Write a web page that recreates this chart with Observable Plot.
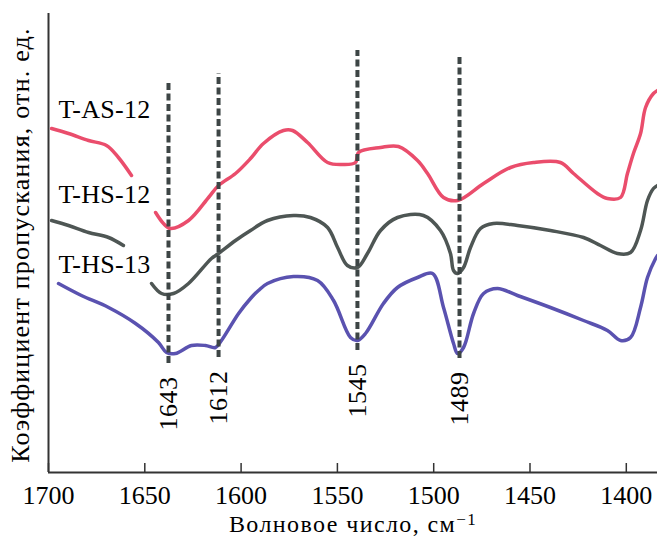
<!DOCTYPE html>
<html><head><meta charset="utf-8">
<script src="https://cdn.jsdelivr.net/npm/d3@7"></script>
<script src="https://cdn.jsdelivr.net/npm/@observablehq/plot@0.6"></script>
<style>body{margin:0;background:#fff}</style>
</head><body><div id="chart"></div>
<script>
// T-AS-12 (null = gap in the recorded curve)
const waveAS = [1698.4,1689.6,1679.2,1669.9,1663.7,1656.9,null,1644.4,1640.3,1636.7,1627.3,1616.9,1611.7,1602.9,1595.1,1588.4,1578.0,1573.3,1565.5,1555.1,1547.0,1540.6,1539.0,1527.6,1518.3,1508.4,1503.2,1494.9,1487.6,1474.1,1460.1,1448.2,1434.2,1427.4,1415.0,1409.8,1403.0,1399.4,1396.3,1392.6,1390.0,1385.9,1383.8];
const transAS = [34.4,33.9,33.2,32.7,31.5,29.7,null,26.0,24.9,24.4,25.2,27.5,28.7,29.9,31.4,32.9,34.2,34.2,33.0,31.0,30.8,31.0,32.0,32.5,32.6,31.2,29.9,27.5,27.2,28.9,30.5,31.0,31.0,29.9,27.9,27.4,27.5,29.9,31.9,33.9,36.5,37.9,38.2];
// T-HS-12
const waveHS12 = [1698.4,1689.6,1679.2,1668.8,1661.1,null,1646.5,1641.3,1635.1,1627.3,1615.4,1611.7,1602.9,1595.1,1586.3,1572.8,1564.0,1555.1,1549.9,1544.8,1539.6,1534.4,1527.6,1518.8,1505.3,1496.5,1491.3,1489.7,1487.6,1484.5,1480.9,1475.7,1469.0,1456.5,1439.4,1422.2,1413.4,1404.6,1397.8,1392.6,1389.0,1385.9,1383.8];
const transHS12 = [25.2,24.7,24.0,23.5,22.7,null,18.9,17.9,17.9,18.9,21.4,21.9,23.2,24.2,25.2,25.7,25.5,24.5,22.5,20.7,20.5,21.9,24.2,25.5,25.7,24.2,21.9,20.2,19.9,20.5,22.5,24.4,24.9,24.7,24.2,23.5,22.7,21.9,22.0,24.2,27.2,28.4,28.7];
// T-HS-13
const waveHS13 = [1694.8,1682.9,1668.8,1654.8,1642.9,1638.7,1634.1,1625.8,1618.5,1613.3,1610.2,1601.3,1595.1,1591.0,1586.3,1572.8,1560.3,1552.0,1543.2,1539.6,1535.4,1526.1,1518.8,1508.4,1500.6,1494.9,1489.7,1487.6,1484.5,1479.3,1474.1,1466.9,1456.5,1439.4,1422.2,1409.8,1403.0,1397.8,1392.6,1389.0,1384.8,1383.8];
const transHS13 = [18.9,17.7,16.5,14.9,13.0,12.0,11.9,12.7,12.7,12.5,13.2,15.9,17.4,18.2,18.9,19.6,19.2,17.2,13.5,13.2,13.9,16.9,18.5,19.5,19.9,16.5,12.9,11.9,12.5,15.9,17.9,18.4,17.7,16.5,15.2,14.2,13.2,13.5,16.5,19.5,21.4,21.7];

const seriesNames = ["T-AS-12", "T-HS-12", "T-HS-13"];
const seriesColors = ["#ea4d6c", "#4e5654", "#5a52b0"];
const labelWave = [1694.8, 1694.8, 1694.8];
const labelTrans = [36.3, 27.8, 20.8];

// band markers
const peakLabels = ["1643", "1612", "1545", "1489"];
const peakPos = [1637.7, 1611.7, 1539.6, 1486.6];
const peakTop = [38.9, 39.9, 42.2, 41.5];
const peakBottom = [10.9, 11.5, 12.2, 11.4];

const tickValues = [1700, 1650, 1600, 1550, 1500, 1450, 1400];
const xTitle = "Волновое число, см";
const yTitle = "Коэффициент пропускания, отн. ед.";

const build = (name, w, t) => w.map((x, i) => ({series: name, x, y: t[i]}));
const curves = [
  build(seriesNames[0], waveAS, transAS),
  build(seriesNames[1], waveHS12, transHS12),
  build(seriesNames[2], waveHS13, transHS13)
];
const peaks = peakLabels.map((label, i) => ({label, pos: peakPos[i], top: peakTop[i], bottom: peakBottom[i]}));
const seriesLabels = seriesNames.map((name, i) => ({name, x: labelWave[i], y: labelTrans[i]}));

const font = "'Liberation Serif', 'Times New Roman', serif";
const plot = Plot.plot({
  width: 657, height: 538,
  marginLeft: 48, marginRight: 0, marginTop: 13, marginBottom: 66,
  style: {fontFamily: font, fontSize: "26px", color: "#000", background: "#fff", overflow: "visible"},
  x: {domain: [1700, 1383.8], ticks: tickValues, tickSize: 0, tickPadding: 13, label: null, tickFormat: d => String(d)},
  y: {domain: [0, 45.9], axis: null},
  marks: [
    Plot.ruleX(tickValues, {y1: 0, y2: 0.9, stroke: "#333", strokeWidth: 1.5}),
    Plot.ruleX([1700], {stroke: "#333", strokeWidth: 2}),
    Plot.ruleY([0], {stroke: "#333", strokeWidth: 2}),
    ...curves.map((c, i) => Plot.line(c, {x: "x", y: "y", stroke: seriesColors[i], strokeWidth: 3.5, curve: "catmull-rom", strokeLinejoin: "round", strokeLinecap: "round"})),
    Plot.ruleX(peaks, {x: "pos", y1: "bottom", y2: "top", stroke: "#3d4545", strokeWidth: 4, strokeDasharray: "7,3.5"}),
    Plot.text(peaks, {x: "pos", y: "bottom", text: "label", rotate: -90, textAnchor: "end", lineAnchor: "middle", dy: 13, fontSize: 26, fill: "#000"}),
    Plot.text(seriesLabels, {x: "x", y: "y", text: "name", textAnchor: "start", lineAnchor: "middle", fontSize: 26, fill: "#000"}),
    Plot.text([yTitle], {frameAnchor: "left", rotate: -90, dx: -28, dy: 2, textAnchor: "middle", lineAnchor: "middle", fontSize: 26, fill: "#000"}),
    Plot.text([xTitle], {frameAnchor: "bottom", dy: 52, textAnchor: "middle", lineAnchor: "middle", fontSize: 24, fill: "#000"})
  ]
});
document.getElementById("chart").appendChild(plot);

const svg = d3.select(plot);
svg.selectAll("text").each(function() {
  const t = this.textContent;
  const sel = d3.select(this);
  if (seriesNames.includes(t)) sel.style("letter-spacing", "0.3px");
  if (peakLabels.includes(t)) sel.style("letter-spacing", "0.5px");
  if (t === yTitle) sel.style("letter-spacing", "1.2px");
  if (t === xTitle) {
    sel.style("letter-spacing", "1.4px");
    sel.append("tspan").attr("dy", "-0.45em").attr("font-size", "17px").text("−1");
  }
});
</script>
</body></html>
